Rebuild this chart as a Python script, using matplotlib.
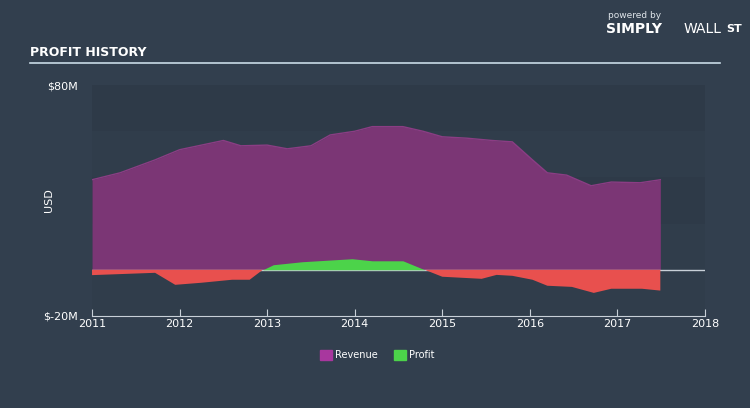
import numpy as np
import matplotlib.pyplot as plt

# values in $M
rev_t = [2011.0, 2011.32, 2011.72, 2012.0, 2012.25, 2012.5, 2012.7, 2013.0, 2013.23,
         2013.5, 2013.72, 2014.0, 2014.2, 2014.55, 2014.78, 2015.0, 2015.28, 2015.57,
         2015.8, 2016.03, 2016.2, 2016.42, 2016.7, 2016.93, 2017.26, 2017.49]
revenue = [39, 42, 47.6, 52, 54, 56, 53.7, 54, 52.4,
           53.7, 58.4, 60, 62, 62, 60, 57.6, 57, 56,
           55.4, 47.6, 42, 41, 36.4, 38, 37.7, 39]

prof_t = [2011.0, 2011.72, 2011.95, 2012.25, 2012.6, 2012.8, 2012.95, 2013.07, 2013.4,
          2013.97, 2014.2, 2014.55, 2014.8, 2015.0, 2015.45, 2015.62, 2015.8, 2016.03,
          2016.2, 2016.48, 2016.73, 2016.93, 2017.28, 2017.49]
profit = [-2.3, -1.3, -6.5, -5.6, -4.3, -4.3, 0, 2.2, 3.5,
          4.8, 3.9, 3.9, 0, -3, -3.9, -2.2, -2.6, -4.3,
          -6.9, -7.4, -10, -8.2, -8.2, -9]

bg = "#323f4e"
fig = plt.figure(figsize=(7.5, 4.08), dpi=100, facecolor=bg)
ax = fig.add_axes([0.1227, 0.2255, 0.8173, 0.566])
ax.set_facecolor("#303d4b")

# faint bands
ax.axhspan(60, 80, color="#2e3a48", zorder=0, lw=0)
ax.axhspan(20, 40, color="#2e3a48", zorder=0, lw=0)

ax.fill_between(rev_t, 0, revenue, color="#7b3675", lw=0, zorder=2)
ax.plot(rev_t, revenue, color="#8b3d84", lw=1, zorder=2)
pt = np.array(prof_t)
pv = np.array(profit)
ax.axhline(0, color="#c8d0d8", lw=1, zorder=3)
ax.fill_between(pt, 0, pv, where=pv >= 0, interpolate=True, color="#4cd34a", lw=0, zorder=3)
ax.fill_between(pt, 0, pv, where=pv <= 0, interpolate=True, color="#e8504e", lw=0, zorder=4)

ax.set_xlim(2011, 2018)
ax.set_ylim(-20, 80)
ax.set_xticks(range(2011, 2019))
ax.set_xticklabels([str(y) for y in range(2011, 2019)], color="white", fontsize=8)
ax.set_yticks([-20, 80])
ax.set_yticklabels(["$-20M", "$80M"], color="white", fontsize=8)
ax.tick_params(axis="x", direction="in", length=5, color="#c8d0d8", pad=2)
ax.tick_params(axis="y", length=0, pad=10)
for s in ["top", "right", "left"]:
    ax.spines[s].set_visible(False)
ax.spines["bottom"].set_color("#c8d0d8")
ax.set_ylabel("USD", color="white", fontsize=8, labelpad=-8)

# legend
fig.patches.append(plt.Rectangle((0.427, 0.117), 0.016, 0.026, color="#a8379e", transform=fig.transFigure))
fig.text(0.447, 0.13, "Revenue", color="white", fontsize=7, va="center")
fig.patches.append(plt.Rectangle((0.525, 0.117), 0.016, 0.026, color="#4cd34a", transform=fig.transFigure))
fig.text(0.545, 0.13, "Profit", color="white", fontsize=7, va="center")

# title
fig.text(0.04, 0.872, "PROFIT HISTORY", color="white", fontsize=9, fontweight="bold", va="center")
fig.add_artist(plt.Line2D([0.04, 0.96], [0.845, 0.845], color="#c9dbe6", lw=1.2))

# branding
fig.text(0.81, 0.962, "powered by", color="#dfe5ea", fontsize=6.5, va="center")
fig.text(0.808, 0.93, "SIMPLY", color="white", fontsize=10, fontweight="bold", va="center")
fig.text(0.912, 0.93, "WALL", color="white", fontsize=10, va="center")
fig.text(0.968, 0.93, "ST", color="white", fontsize=8, fontweight="bold", va="center")

plt.savefig("out.png", dpi=100, facecolor=bg)
plt.close()
